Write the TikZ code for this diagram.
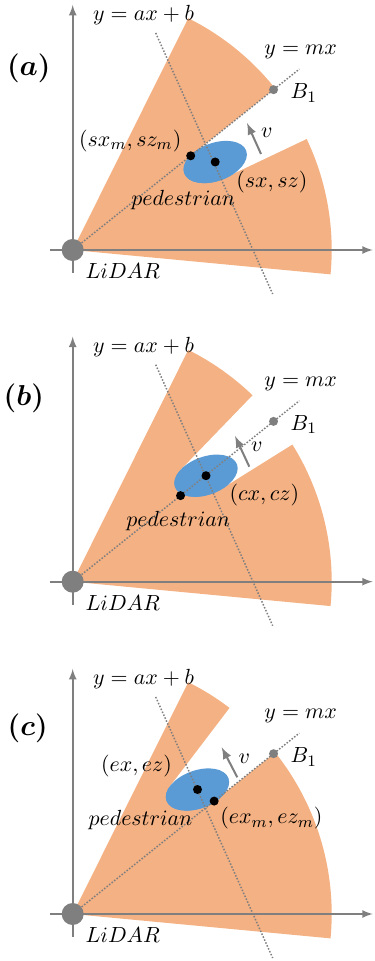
\documentclass[tikz,border=0pt]{standalone}
\usepackage{amsmath}
\usepackage{bm}
\usepackage{tikz}
\usetikzlibrary{arrows}
\usetikzlibrary{shapes.geometric}

\definecolor{fov}{RGB}{244,177,131}
\definecolor{ped}{RGB}{91,155,213}
\definecolor{axgray}{RGB}{127,127,127}

\tikzset{
 axis/.style={-latex,axgray,line width=0.8pt},
 guide/.style={axgray,line width=0.75pt,dash pattern=on 0.75pt off 0.85pt},
 vel/.style={-latex,axgray,line width=1pt},
 lbl/.style={font=\fontsize{10.95}{13}\selectfont,inner sep=0.5pt},
 tag/.style={font=\Large,inner sep=0pt,anchor=west},
 body/.style={ellipse,fill=ped,inner sep=0pt,minimum width=33pt,minimum height=19pt,rotate=20},
 pt/.style={circle,fill=black,inner sep=0pt,minimum size=4.5pt},
 bpt/.style={circle,fill=axgray,inner sep=0pt,minimum size=4.5pt},
 lidar/.style={circle,fill=axgray,inner sep=0pt,minimum size=11pt}
}

\begin{document}
\begin{tikzpicture}[x=0.5pt,y=0.5pt]
 \useasboundingbox (0,0) rectangle (374,-961);

 % (a)
 \begin{scope}[shift={(72.7,-250)}]
 \fill[fov] (0,0) -- (-5.4:259) arc[start angle=-5.4,end angle=63.5,radius=259] -- cycle;
 \node[body] (Ea) at (142.5,88) {};
 \fill[white] (Ea.center) -- (25.4:168) -- (25.4:262) arc[start angle=25.4,end angle=38.6,radius=262] -- (38.6:152) -- cycle;
 \node[body] at (Ea.center) {};
 \coordinate (XLa) at (-23,0);
 \coordinate (XRa) at (300,0);
 \coordinate (YBa) at (0,-23);
 \coordinate (YTa) at (0,245);
 \draw[axis] (XLa) -- (XRa);
 \draw[axis] (YBa) -- (YTa);
 \node[lidar] (La) at (0,0) {};
 \coordinate (Ma) at (38.6:290);
 \coordinate (Pa1) at (83,217);
 \coordinate (Pa2) at (200,-44);
 \draw[guide] (La) -- (Ma);
 \draw[guide] (Pa1) -- (Pa2);
 \node[bpt] (Ba) at (38.6:257) {};
 \node[pt] (Sa) at (Ea.center) {};
 \node[pt] (SMa) at (38.6:151) {};
 \coordinate (Va1) at (188.3,96);
 \coordinate (Va2) at (174.3,127);
 \draw[vel] (Va1) -- (Va2);
 \node[lbl,anchor=west] (LTa) at (11.5,-21.5) {$LiDAR$};
 \node[lbl,anchor=west] (ABa) at (19,235) {$y = ax + b$};
 \node[lbl,anchor=west] (MXa) at (190.3,198) {$y = mx$};
 \node[lbl,anchor=west] (BTa) at (216.6,157) {$B_1$};
 \node[lbl] (VTa) at (194,117) {$v$};
 \node[lbl,anchor=east] (SMTa) at (110,109) {$(sx_m, sz_m)$};
 \node[lbl,anchor=west] (STa) at (162.3,68) {$(sx, sz)$};
 \node[lbl,anchor=west] (PTa) at (57.3,50) {$pedestrian$};
 \node[tag] (Ga) at (-66,182) {$\bm{(a)}$};
 \end{scope}

 % (b)
 \begin{scope}[shift={(72.7,-581.7)}]
 \fill[fov] (0,0) -- (-5.4:259) arc[start angle=-5.4,end angle=63.5,radius=259] -- cycle;
 \node[body] (Eb) at (133.3,106) {};
 \fill[white] (Eb.center) -- (32:174) -- (32:262) arc[start angle=32,end angle=46,radius=262] -- (46:156) -- cycle;
 \node[body] at (Eb.center) {};
 \coordinate (XLb) at (-23,0);
 \coordinate (XRb) at (300,0);
 \coordinate (YBb) at (0,-23);
 \coordinate (YTb) at (0,245);
 \draw[axis] (XLb) -- (XRb);
 \draw[axis] (YBb) -- (YTb);
 \node[lidar] (Lb) at (0,0) {};
 \coordinate (Mb) at (38.6:290);
 \coordinate (Pb1) at (83,217);
 \coordinate (Pb2) at (200,-44);
 \draw[guide] (Lb) -- (Mb);
 \draw[guide] (Pb1) -- (Pb2);
 \node[bpt] (Bb) at (38.6:257) {};
 \node[pt] (Cb) at (Eb.center) {};
 \node[pt] (CMb) at (38.6:138) {};
 \coordinate (Vb1) at (176.6,115);
 \coordinate (Vb2) at (162.3,145.7);
 \draw[vel] (Vb1) -- (Vb2);
 \node[lbl,anchor=west] (LTb) at (11.5,-21.5) {$LiDAR$};
 \node[lbl,anchor=west] (ABb) at (19,235) {$y = ax + b$};
 \node[lbl,anchor=west] (MXb) at (190.3,198) {$y = mx$};
 \node[lbl,anchor=west] (BTb) at (216.6,157) {$B_1$};
 \node[lbl] (VTb) at (184,135) {$v$};
 \node[lbl,anchor=west] (CTb) at (155.6,86.7) {$(cx, cz)$};
 \node[lbl,anchor=west] (PTb) at (52.3,60.7) {$pedestrian$};
 \node[tag] (Gb) at (-69.4,183.4) {$\bm{(b)}$};
 \end{scope}

 % (c)
 \begin{scope}[shift={(72.7,-914)}]
 \fill[fov] (0,0) -- (-5.4:259) arc[start angle=-5.4,end angle=63.5,radius=259] -- cycle;
 \node[body] (Ec) at (124.8,124.5) {};
 \fill[white] (Ec.center) -- (38.6:181) -- (38.6:262) arc[start angle=38.6,end angle=52.7,radius=262] -- (52.7:160) -- cycle;
 \node[body] at (Ec.center) {};
 \coordinate (XLc) at (-23,0);
 \coordinate (XRc) at (300,0);
 \coordinate (YBc) at (0,-23);
 \coordinate (YTc) at (0,245);
 \draw[axis] (XLc) -- (XRc);
 \draw[axis] (YBc) -- (YTc);
 \node[lidar] (Lc) at (0,0) {};
 \coordinate (Mc) at (38.6:290);
 \coordinate (Pc1) at (83,217);
 \coordinate (Pc2) at (200,-44);
 \draw[guide] (Lc) -- (Mc);
 \draw[guide] (Pc1) -- (Pc2);
 \node[bpt] (Bc) at (38.6:257) {};
 \node[pt] (Xc) at (Ec.center) {};
 \node[pt] (XMc) at (38.6:181) {};
 \coordinate (Vc1) at (164.6,136.7);
 \coordinate (Vc2) at (149,166.7);
 \draw[vel] (Vc1) -- (Vc2);
 \node[lbl,anchor=west] (LTc) at (11.5,-21.5) {$LiDAR$};
 \node[lbl,anchor=west] (ABc) at (19,235) {$y = ax + b$};
 \node[lbl,anchor=west] (MXc) at (190.3,198) {$y = mx$};
 \node[lbl,anchor=west] (BTc) at (216.6,157) {$B_1$};
 \node[lbl] (VTc) at (171.6,155.7) {$v$};
 \node[lbl,anchor=east] (XTc) at (100.6,148) {$(ex, ez)$};
 \node[lbl,anchor=west] (XMTc) at (146.3,95.7) {$(ex_m, ez_m)$};
 \node[lbl,anchor=west] (PTc) at (14.6,94) {$pedestrian$};
 \node[tag] (Gc) at (-65.4,185.7) {$\bm{(c)}$};
 \end{scope}
\end{tikzpicture}
\end{document}
